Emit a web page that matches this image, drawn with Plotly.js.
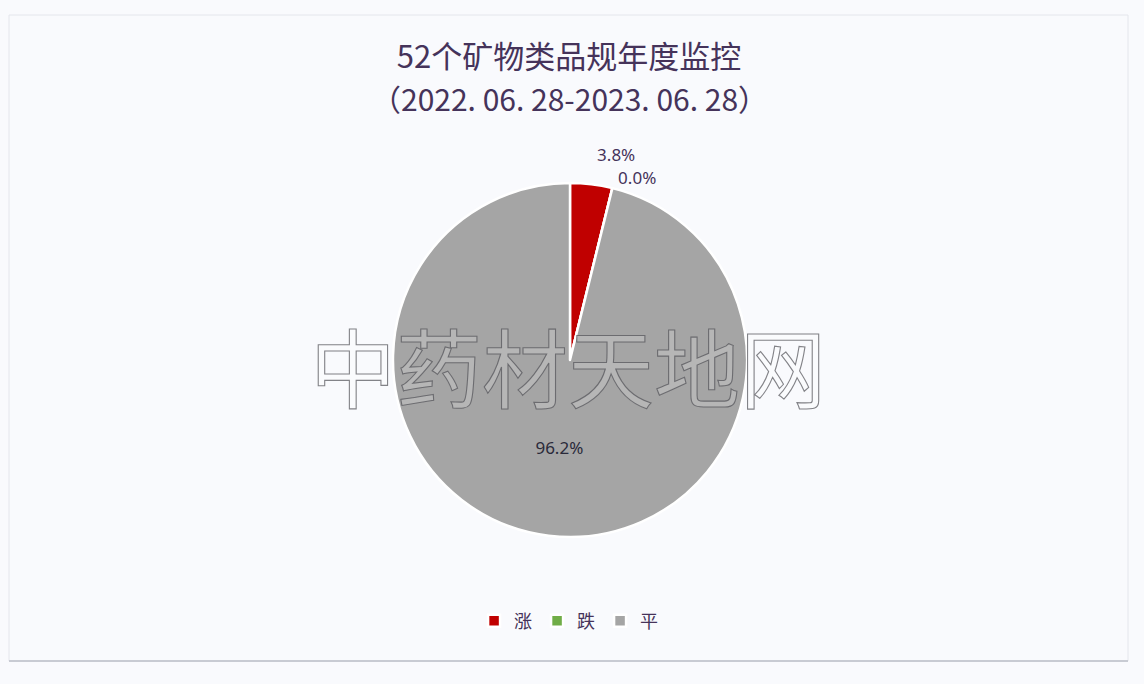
<!DOCTYPE html>
<html><head><meta charset="utf-8">
<script src="https://cdn.plot.ly/plotly-3.0.1.min.js"></script>
<style>
html,body{margin:0;padding:0;background:#f9fafd;}
#chart{width:1144px;height:684px;}
path.textline{display:none !important;}
g.annotation[data-index="1"] text{fill:rgba(255,255,255,0.35) !important;stroke:rgba(80,80,85,0.7) !important;stroke-width:1.1px !important;}
</style>
</head><body><div id="chart"></div>
<script>
const titleLine1 = '52个矿物类品规年度监控';
const titleLine2 = '（2022. 06. 28-2023. 06. 28）';
const categories = ['涨', '跌', '平'];
const counts = [2, 0, 50];
const colors = ['#c00000', '#70ad47', '#a5a5a5'];
const watermark = '中药材天地网';

const txtColor = '#45335a';
const trace = {
  type: 'pie',
  labels: categories,
  values: counts,
  sort: false,
  direction: 'clockwise',
  rotation: 0,
  marker: {colors: colors, line: {color: '#ffffff', width: 2.5}},
  texttemplate: '%{percent:.1%}',
  textposition: ['outside', 'outside', 'inside'],
  insidetextorientation: 'horizontal',
  textfont: {family: 'Noto Sans, Noto Sans CJK SC', size: 17, color: txtColor},
  outsidetextfont: {family: 'Noto Sans, Noto Sans CJK SC', size: 17, color: txtColor},
  insidetextfont: {family: 'Noto Sans, Noto Sans CJK SC', size: 17, color: '#2a2a3a'},
  domain: {x: [0, 1140/1144], y: [0.2149, 0.7325]},
  automargin: false,
  hoverinfo: 'label+percent'
};
const layout = {
  width: 1144, height: 684,
  margin: {l: 0, r: 0, t: 0, b: 0},
  paper_bgcolor: '#f9fafd',
  plot_bgcolor: '#f9fafd',
  font: {family: 'Noto Sans CJK SC', color: txtColor},
  title: {text: titleLine1, x: 569/1144, xanchor: 'center', y: 1 - 57/684, yanchor: 'middle',
          font: {family: 'Noto Sans CJK SC', size: 31, color: txtColor}},
  showlegend: true,
  legend: {orientation: 'h', x: 0.497, xanchor: 'center', y: 1 - 621/684, yanchor: 'middle',
           font: {family: 'Noto Sans CJK SC', size: 18, color: txtColor}, itemwidth: 30,
           bgcolor: 'rgba(0,0,0,0)'},
  shapes: [
    {type: 'rect', xref: 'paper', yref: 'paper', x0: 9/1144, x1: 1128/1144, y0: 1 - 661/684, y1: 1 - 15/684,
     line: {color: '#e4e6ec', width: 1}, fillcolor: 'rgba(0,0,0,0)', layer: 'below'},
    {type: 'line', xref: 'paper', yref: 'paper', x0: 9/1144, x1: 1128/1144, y0: 1 - 661/684, y1: 1 - 661/684,
     line: {color: '#c8cbd3', width: 2}, layer: 'below'}
  ],
  annotations: [
    {text: titleLine2, xref: 'paper', yref: 'paper', x: 569/1144, y: 1 - 98/684, xanchor: 'center', yanchor: 'middle',
     showarrow: false, font: {family: 'Noto Sans CJK SC', size: 30, color: txtColor}},
    {text: watermark, xref: 'paper', yref: 'paper', x: 568/1144, y: 1 - 365/684, xanchor: 'center', yanchor: 'middle',
     showarrow: false, font: {family: 'Noto Sans CJK SC', size: 86, color: 'rgba(120,120,125,0.55)'}}
  ]
};
Plotly.newPlot('chart', [trace], layout, {displayModeBar: false, staticPlot: true});
</script></body></html>
